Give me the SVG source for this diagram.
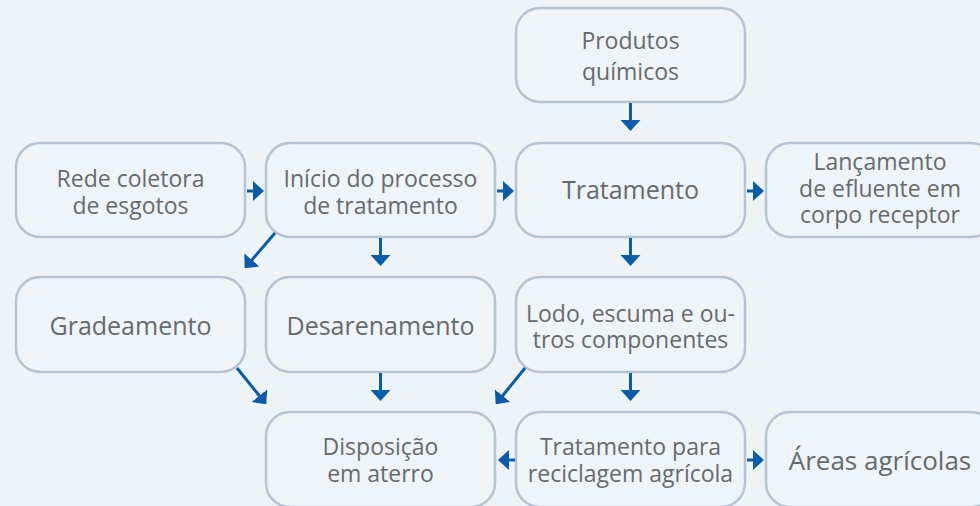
<svg xmlns="http://www.w3.org/2000/svg" width="980" height="506" viewBox="0 0 980 506">
<style>
.bx{fill:#eff4f8;stroke:#b5c3d2;stroke-width:2.5}
.t{font-family:"Open Sans","Noto Sans",sans-serif;font-size:23px;fill:#666a6f;text-anchor:middle}
.tb{font-family:"Open Sans","Noto Sans",sans-serif;font-size:25px;fill:#666a6f;text-anchor:middle}
.c{stroke:#0a5ca6;stroke-width:3;fill:none;marker-end:url(#ah)}
</style>
<defs>
<marker id="ah" markerUnits="userSpaceOnUse" viewBox="0 0 11 20" refX="1" refY="10" markerWidth="11" markerHeight="20" orient="auto">
<path d="M0,0 L11,10 L0,20 Z" fill="#0a5ca6"/>
</marker>
</defs>
<rect width="980" height="506" fill="#eef3f7"/>
<g id="produtos"><rect class="bx" x="516" y="8" width="229" height="94" rx="24"/><text class="t" x="630.5" y="49">Produtos</text><text class="t" x="630.5" y="80">químicos</text></g>
<g id="rede"><rect class="bx" x="16" y="143" width="229" height="94" rx="24"/><text class="t" x="130.5" y="187">Rede coletora</text><text class="t" x="130.5" y="214">de esgotos</text></g>
<g id="inicio"><rect class="bx" x="266" y="143" width="229" height="94" rx="24"/><text class="t" x="380.5" y="187">Início do processo</text><text class="t" x="380.5" y="214">de tratamento</text></g>
<g id="tratamento"><rect class="bx" x="516" y="143" width="229" height="94" rx="24"/><text class="tb" x="630.5" y="199">Tratamento</text></g>
<g id="lancamento"><rect class="bx" x="766" y="143" width="229" height="94" rx="24"/><text class="t" x="880" y="170">Lançamento</text><text class="t" x="880" y="197">de efluente em</text><text class="t" x="880" y="223">corpo receptor</text></g>
<g id="gradeamento"><rect class="bx" x="16" y="277" width="229" height="95" rx="24"/><text class="tb" x="130.5" y="335">Gradeamento</text></g>
<g id="desarenamento"><rect class="bx" x="266" y="277" width="229" height="95" rx="24"/><text class="tb" x="380.5" y="335">Desarenamento</text></g>
<g id="lodo"><rect class="bx" x="516" y="277" width="229" height="95" rx="24"/><text class="t" x="630.5" y="322">Lodo, escuma e ou-</text><text class="t" x="630.5" y="348">tros componentes</text></g>
<g id="disposicao"><rect class="bx" x="266" y="412" width="229" height="95" rx="24"/><text class="t" x="380.5" y="455">Disposição</text><text class="t" x="380.5" y="482">em aterro</text></g>
<g id="reciclagem"><rect class="bx" x="516" y="412" width="229" height="95" rx="24"/><text class="t" x="630.5" y="455">Tratamento para</text><text class="t" x="630.5" y="482">reciclagem agrícola</text></g>
<g id="areas"><rect class="bx" x="766" y="412" width="229" height="95" rx="24"/><text class="tb" x="880" y="470" style="font-size:26px">Áreas agrícolas</text></g>
<g id="connectors">
<path class="c" d="M247,191 H254"/>
<path class="c" d="M497,191 H504"/>
<path class="c" d="M747,191 H754"/>
<path class="c" d="M630.5,103 V121"/>
<path class="c" d="M630.5,238 V256"/>
<path class="c" d="M380.5,238 V256"/>
<path class="c" d="M275,233 L251.2,260.7"/>
<path class="c" d="M237,368 L260,396.5"/>
<path class="c" d="M380.5,373 V391"/>
<path class="c" d="M525,368 L502,396.5"/>
<path class="c" d="M630.5,373 V391"/>
<path class="c" d="M515,460 H508"/>
<path class="c" d="M747,460 H754"/>
</g>
</svg>
